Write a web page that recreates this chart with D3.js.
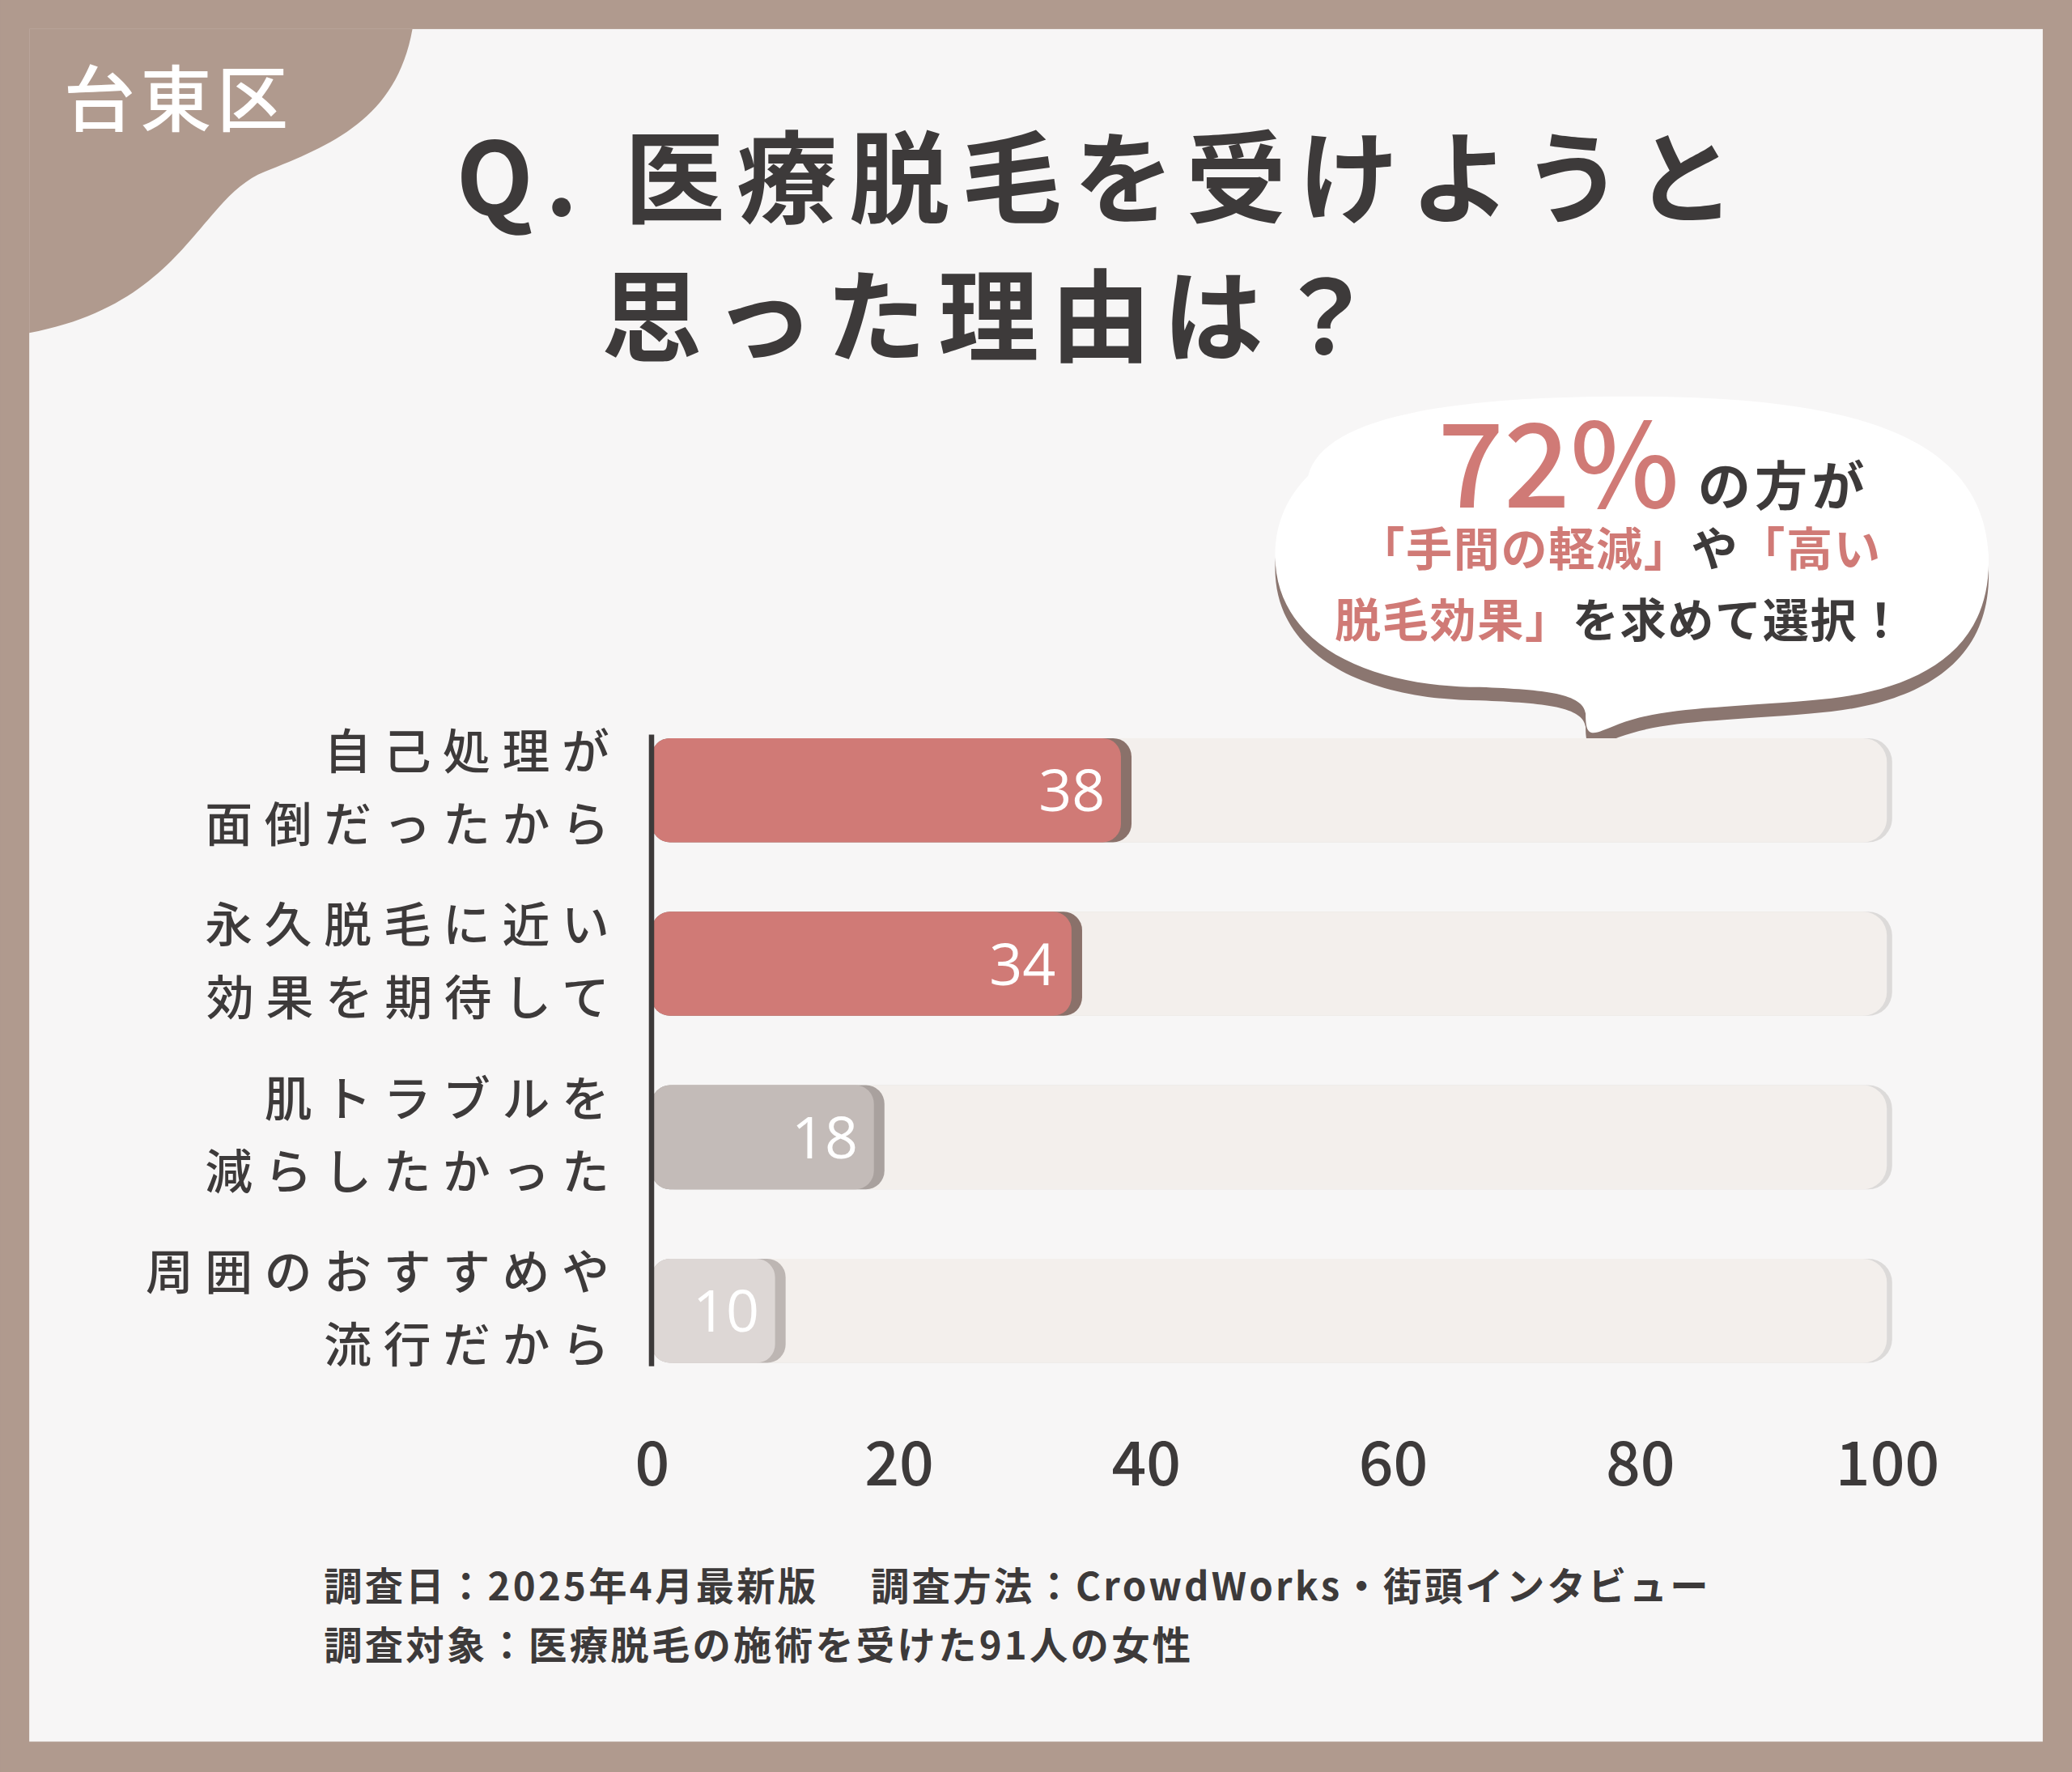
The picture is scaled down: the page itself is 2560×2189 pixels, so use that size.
<!DOCTYPE html>
<html><head><meta charset="utf-8">
<script src="https://cdn.jsdelivr.net/npm/d3@7"></script>
<style>body{margin:0;background:#b09a8e}svg{display:block}</style>
</head><body><div id="chart"></div>
<script>
const categories = [['自己処理が', '面倒だったから'], ['永久脱毛に近い', '効果を期待して'], ['肌トラブルを', '減らしたかった'], ['周囲のおすすめや', '流行だから']]
const values = [38, 34, 18, 10]
const barColors = ['#d07a76', '#d07a76', '#c3bbb8', '#ddd7d5']
const shadeColors = ['#8a716a', '#8a716a', '#a9a19e', '#bdb6b3']
const ticks = [0, 20, 40, 60, 80, 100]

const font = '"Noto Sans CJK JP", "Noto Sans", sans-serif'
const svg = d3.select('#chart').append('svg')
  .attr('width', 2560).attr('height', 2189)
  .attr('viewBox', '0 0 1568 1341')
  .style('font-family', font)

// frame
svg.append('rect').attr('width', 1568).attr('height', 1341).attr('fill', '#b09a8e')
svg.append('rect').attr('x', 22).attr('y', 22).attr('width', 1524).attr('height', 1296).attr('fill', '#f7f6f6')
// corner blob
svg.append('path').attr('fill', '#b09a8e')
  .attr('d', 'M22,22 L312,22 C300,90 250,110 200,130 C150,150 140,230 22,252 Z')
svg.append('text').attr('x', 48).attr('y', 95).attr('font-size', 54).attr('font-weight', 500)
  .attr('fill', '#fff').attr('letter-spacing', 4).text('台東区')

// title
const title = svg.append('g').attr('fill', '#3d3a3a').attr('font-weight', 700).attr('font-size', 76).attr('letter-spacing', 9)
title.append('text').attr('x', 345).attr('y', 163).text('Q. 医療脱毛を受けようと')
title.append('text').attr('x', 455).attr('y', 268).text('思った理由は？')

// bubble
const bub = 'M990,360 C1000,320 1080,300 1230,300 C1380,300 1500,320 1505,420 C1508,500 1440,525 1370,530 C1300,536 1260,535 1225,548 C1205,556 1200,560 1200,540 C1198,525 1170,522 1120,520 C1040,520 965,490 965,420 C965,395 975,375 990,360 Z'
svg.append('path').attr('d', bub).attr('fill', '#8b7670').attr('transform', 'translate(0,10)')
svg.append('path').attr('d', bub).attr('fill', '#ffffff')
svg.append('text').attr('x', 1088).attr('y', 384).attr('font-size', 88).attr('font-weight', 500).attr('fill', '#d07a76').text('72%')
svg.append('text').attr('x', 1285).attr('y', 382).attr('font-size', 40).attr('font-weight', 700).attr('fill', '#3d3a3a').attr('letter-spacing', 3).text('の方が')
const b2 = svg.append('text').attr('x', 1028).attr('y', 428).attr('font-size', 35).attr('font-weight', 700).attr('letter-spacing', 1)
b2.append('tspan').attr('fill', '#d07a76').text('「手間の軽減」')
b2.append('tspan').attr('fill', '#3d3a3a').text('や')
b2.append('tspan').attr('fill', '#d07a76').text('「高い')
const b3 = svg.append('text').attr('x', 1010).attr('y', 482).attr('font-size', 35).attr('font-weight', 700).attr('letter-spacing', 1)
b3.append('tspan').attr('fill', '#d07a76').text('脱毛効果」')
b3.append('tspan').attr('fill', '#3d3a3a').text('を求めて選択！')
svg.append('circle').attr('cx', 1152).attr('cy', 593).attr('r', 13).attr('fill', '#8b7670')
svg.append('circle').attr('cx', 1151).attr('cy', 585).attr('r', 12).attr('fill', '#fff')
svg.append('circle').attr('cx', 1119).attr('cy', 612).attr('r', 6).attr('fill', '#8b7670')
svg.append('circle').attr('cx', 1119).attr('cy', 605).attr('r', 6).attr('fill', '#fff')

// chart
const x = d3.scaleLinear().domain([0, 100]).range([493, 1428])
const y = d3.scaleBand().domain(d3.range(values.length)).range([556, 1034]).paddingInner(0.4).paddingOuter(0.02)
const bh = y.bandwidth()

const rows = svg.append('g').selectAll('g').data(values).join('g')
  .attr('transform', (d, i) => `translate(0,${y(i)})`)
rows.append('rect').attr('x', x(0)).attr('width', x(100) - x(0) + 4).attr('height', bh)
  .attr('rx', 18).attr('fill', '#dcdad9')
rows.append('rect').attr('x', x(0)).attr('width', x(100) - x(0)).attr('height', bh)
  .attr('rx', 18).attr('fill', '#f3efec')
rows.append('rect').attr('x', x(0)).attr('width', d => x(d) - x(0) + 8).attr('height', bh)
  .attr('rx', 14).attr('fill', (d, i) => shadeColors[i])
rows.append('rect').attr('x', x(0)).attr('width', d => x(d) - x(0)).attr('height', bh)
  .attr('rx', 14).attr('fill', (d, i) => barColors[i])
rows.append('text').attr('x', d => x(d) - 12).attr('y', bh / 2 + 16)
  .attr('text-anchor', 'end').attr('font-size', 44).attr('fill', '#fff')
  .attr('font-family', '"Open Sans", "Noto Sans", sans-serif').text(d => d)

// category labels
const labels = svg.append('g').selectAll('text').data(categories).join('text')
  .attr('text-anchor', 'end').attr('font-size', 36).attr('font-weight', 500)
  .attr('fill', '#3d3a3a').attr('letter-spacing', 9)
labels.each(function (lines, i) {
  d3.select(this).selectAll('tspan').data(lines).join('tspan')
    .attr('x', 470).attr('y', (d, j) => y(i) + bh / 2 - 16 + j * 55).text(d => d)
})

// y axis line
svg.append('line').attr('x1', 493).attr('x2', 493).attr('y1', 556).attr('y2', 1034)
  .attr('stroke', '#3d3a3a').attr('stroke-width', 4)

// x axis ticks
const ax = svg.append('g').attr('transform', 'translate(0,1108)')
  .call(d3.axisBottom(x).tickValues(ticks).tickSize(0))
ax.select('.domain').remove()
ax.selectAll('text').attr('y', 0).attr('dy', '0.35em').attr('font-size', 46).attr('font-weight', 500)
  .attr('fill', '#3d3a3a').attr('font-family', font)

// footer
const foot = svg.append('g').attr('font-size', 29).attr('font-weight', 700).attr('fill', '#3d3a3a').attr('letter-spacing', 2)
foot.append('text').attr('x', 245).attr('y', 1211).text('調査日：2025年4月最新版　 調査方法：CrowdWorks・街頭インタビュー')
foot.append('text').attr('x', 245).attr('y', 1256).text('調査対象：医療脱毛の施術を受けた91人の女性')
</script></body></html>
